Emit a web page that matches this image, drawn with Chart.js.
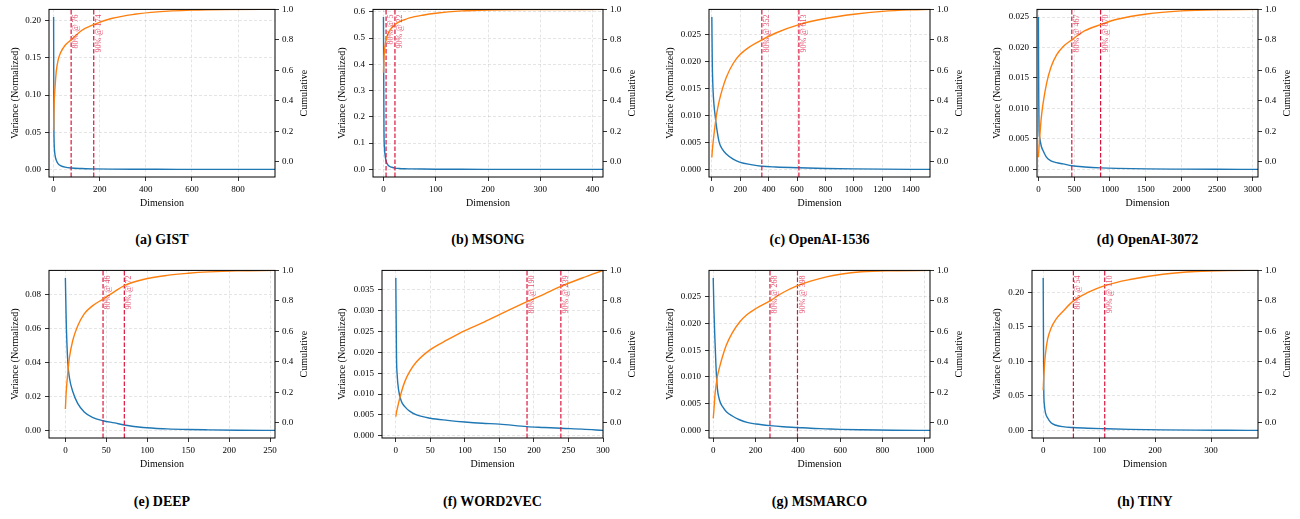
<!DOCTYPE html>
<html>
<head>
<meta charset="utf-8">
<script src="https://cdn.jsdelivr.net/npm/chart.js@4.4.1/dist/chart.umd.min.js"></script>
<style>
  body { margin: 0; background: #fff; width: 1300px; height: 519px; position: relative; overflow: hidden; }
  canvas { position: absolute; }
  .cap { position: absolute; width: 260px; text-align: center; font-family: "Liberation Serif", serif;
         font-weight: bold; font-size: 14px; line-height: 16px; color: #000; }
</style>
</head>
<body>
<script>
// ---- data ----
const panelNames = ['(a) GIST', '(b) MSONG', '(c) OpenAI-1536', '(d) OpenAI-3072',
                    '(e) DEEP', '(f) WORD2VEC', '(g) MSMARCO', '(h) TINY'];
const totalDims = [960, 420, 1536, 3072, 256, 300, 1024, 384];
const dim80 = [76, 5, 352, 467, 46, 190, 268, 54];
const dim90 = [174, 22, 613, 870, 72, 239, 398, 110];

// tick settings
const varStep = [0.05, 0.1, 0.005, 0.005, 0.02, 0.005, 0.005, 0.05];
const varDecimals = [2, 1, 3, 3, 2, 3, 3, 2];
const dimStep = [200, 100, 200, 500, 50, 50, 200, 100];
const cumTicks = [0, 0.2, 0.4, 0.6, 0.8, 1.0];

// (a) GIST
const gistDim = [0, 1, 2, 3, 5, 8, 12, 20, 30, 50, 76, 120, 174, 250, 350, 450, 600, 750, 960];
const gistVar = [0.205, 0.07, 0.04, 0.03, 0.022, 0.016, 0.012, 0.0075, 0.0052, 0.003, 0.0018, 0.0011, 0.0007, 0.0004, 0.00022, 0.00013, 0.00006, 0.00003, 0.00001];
const gistCum = [0.205, 0.31, 0.37, 0.41, 0.46, 0.53, 0.6, 0.67, 0.715, 0.765, 0.80, 0.86, 0.90, 0.94, 0.968, 0.984, 0.995, 0.999, 1.0];

// (b) MSONG
const msongDim = [0, 1, 2, 3, 5, 8, 12, 16, 22, 30, 40, 50, 75, 100, 150, 200, 300, 420];
const msongVar = [0.58, 0.15, 0.08, 0.055, 0.032, 0.018, 0.011, 0.008, 0.005, 0.0035, 0.0025, 0.002, 0.0012, 0.0008, 0.0004, 0.0002, 0.0001, 0.00003];
const msongCum = [0.584, 0.68, 0.73, 0.76, 0.80, 0.835, 0.862, 0.88, 0.90, 0.918, 0.932, 0.944, 0.962, 0.975, 0.99, 0.996, 0.999, 1.0];

// (c) OpenAI-1536
const oa1536Dim = [0, 3, 8, 15, 23, 35, 52, 75, 100, 150, 200, 275, 352, 450, 613, 800, 1000, 1200, 1400, 1536];
const oa1536Var = [0.0282, 0.02, 0.015, 0.012, 0.010, 0.0075, 0.005, 0.0037, 0.0029, 0.0019, 0.0013, 0.0009, 0.0006, 0.00045, 0.0003, 0.00018, 0.0001, 0.00005, 0.00002, 0.00001];
const oa1536Cum = [0.028, 0.07, 0.12, 0.18, 0.24, 0.32, 0.40, 0.48, 0.55, 0.645, 0.705, 0.76, 0.80, 0.845, 0.90, 0.94, 0.968, 0.987, 0.997, 1.0];

// (d) OpenAI-3072
const oa3072Dim = [0, 2, 5, 9, 18, 40, 64, 112, 175, 252, 344, 467, 650, 870, 1100, 1515, 2000, 2500, 3072];
const oa3072Var = [0.025, 0.018, 0.011, 0.0065, 0.0052, 0.0038, 0.0031, 0.002, 0.0014, 0.0011, 0.0009, 0.0006, 0.0004, 0.00025, 0.00016, 0.00008, 0.00004, 0.00001, 0];
const oa3072Cum = [0.03, 0.05, 0.07, 0.1, 0.16, 0.29, 0.38, 0.51, 0.62, 0.70, 0.755, 0.80, 0.86, 0.90, 0.935, 0.97, 0.99, 0.998, 1.0];

// (e) DEEP
const deepDim = [0, 1, 3, 5, 9, 15, 23, 33, 46, 60, 72, 95, 124, 150, 175, 210, 256];
const deepVar = [0.09, 0.065, 0.04, 0.031, 0.023, 0.016, 0.011, 0.0078, 0.0058, 0.0045, 0.0033, 0.0018, 0.001, 0.0006, 0.0004, 0.0002, 0.0001];
const deepCum = [0.09, 0.2, 0.33, 0.43, 0.54, 0.635, 0.715, 0.767, 0.812, 0.861, 0.90, 0.94, 0.967, 0.981, 0.99, 0.997, 1.0];

// (f) WORD2VEC
const w2vDim = [0, 1, 2, 4, 8, 13, 20, 30, 50, 75, 100, 125, 150, 190, 215, 239, 270, 300];
const w2vVar = [0.0378, 0.019, 0.0145, 0.011, 0.0083, 0.007, 0.0059, 0.005, 0.0042, 0.0037, 0.0033, 0.003, 0.0028, 0.0022, 0.002, 0.0018, 0.0016, 0.0013];
const w2vCum = [0.04, 0.07, 0.09, 0.13, 0.2, 0.27, 0.335, 0.40, 0.48, 0.545, 0.605, 0.655, 0.71, 0.795, 0.845, 0.895, 0.95, 1.0];

// (g) MSMARCO
const msmDim = [0, 3, 8, 13, 19, 31, 45, 62, 90, 124, 160, 202, 268, 330, 398, 460, 530, 600, 700, 850, 1024];
const msmVar = [0.0285, 0.023, 0.017, 0.012, 0.008, 0.0055, 0.0044, 0.0035, 0.0027, 0.002, 0.0015, 0.0012, 0.0009, 0.0007, 0.00055, 0.0004, 0.0003, 0.0002, 0.00012, 0.00004, 0.00001];
const msmCum = [0.029, 0.08, 0.18, 0.24, 0.30, 0.37, 0.44, 0.51, 0.59, 0.66, 0.71, 0.75, 0.80, 0.855, 0.90, 0.93, 0.956, 0.975, 0.991, 0.998, 1.0];

// (h) TINY
const tinyDim = [0, 1, 2, 4, 8, 14, 23, 35, 54, 80, 110, 155, 214, 273, 330, 384];
const tinyVar = [0.221, 0.06, 0.038, 0.026, 0.018, 0.011, 0.0075, 0.0055, 0.0042, 0.0032, 0.0025, 0.0016, 0.0009, 0.0005, 0.0003, 0.0001];
const tinyCum = [0.214, 0.3, 0.36, 0.45, 0.55, 0.62, 0.68, 0.73, 0.80, 0.855, 0.90, 0.94, 0.975, 0.993, 0.999, 1.0];

const dims = [gistDim, msongDim, oa1536Dim, oa3072Dim, deepDim, w2vDim, msmDim, tinyDim];
const vars = [gistVar, msongVar, oa1536Var, oa3072Var, deepVar, w2vVar, msmVar, tinyVar];
const cums = [gistCum, msongCum, oa1536Cum, oa3072Cum, deepCum, w2vCum, msmCum, tinyCum];

// plot area placement: [left, top, width, height, y-title centre x]
const layout = [
  [49, 8, 226, 169, 15], [373, 8, 230, 169, 342], [709, 8, 221, 169, 670], [1037, 8, 221, 169, 997],
  [49, 269, 226, 169, 15], [382, 269, 221, 169, 342], [709, 269, 221, 169, 670], [1032, 269, 226, 169, 997]
];
const capTop = [232, 494];

const FONT = 'Liberation Serif';
const tickFont = { family: FONT, size: 9 };
const labelFont = { family: FONT, size: 10 };
const gridColor = 'rgba(0,0,0,0.13)';

// multiples of step from 0 up to max
function stepTicks(step, max) {
  const out = [];
  for (let k = 0; k * step <= max + 1e-9; k++) out.push({ value: Math.round(k * step * 1e6) / 1e6 });
  return out;
}

const framePlugin = {
  id: 'frame',
  afterDatasetsDraw(chart) {
    const a = chart.chartArea, c = chart.ctx;
    c.save();
    c.strokeStyle = '#000';
    c.lineWidth = 1;
    c.strokeRect(a.left, a.top, a.right - a.left, a.bottom - a.top);
    c.restore();
  }
};

const textPlugin = {
  id: 'thresh',
  afterDraw(chart, args, opts) {
    const c = chart.ctx, a = chart.chartArea, xs = chart.scales.x;
    c.save();
    c.font = '8px "' + FONT + '"';
    c.fillStyle = 'rgba(220,20,60,0.75)';
    c.textAlign = 'right';
    c.textBaseline = 'top';
    opts.marks.forEach(m => {
      const px = xs.getPixelForValue(m[1]) + 1;
      c.save();
      c.translate(px, a.top + 5);
      c.rotate(-Math.PI / 2);
      c.fillText(m[0] + '% @ ' + m[1], 0, 0);
      c.restore();
    });
    // right axis title
    c.font = '10px "' + FONT + '"';
    c.fillStyle = '#000';
    c.textAlign = 'center';
    c.textBaseline = 'middle';
    c.translate(a.right + 29, (a.top + a.bottom) / 2);
    c.rotate(-Math.PI / 2);
    c.fillText('Cumulative', 0, 0);
    c.restore();
  }
};

function makeChart(i) {
  const [pl, pt, pw, ph, tx] = layout[i];
  const cl = tx - 10;
  const lw = pl - cl;
  const cv = document.createElement('canvas');
  cv.width = lw + pw + 36;
  cv.height = ph + 44;
  cv.style.left = cl + 'px';
  cv.style.top = (pt - 8) + 'px';
  document.body.appendChild(cv);

  const vMax = Math.max(...vars[i]), vMin = Math.min(...vars[i]);
  const pad = (vMax - vMin) * 0.05;

  const vline = (d) => ({
    data: [{ x: d, y: -0.1 }, { x: d, y: 1.0 }],
    yAxisID: 'y1', borderColor: '#dc143c', borderWidth: 1.2, borderDash: [4.5, 2],
    pointRadius: 0, order: 2
  });

  new Chart(cv, {
    type: 'line',
    data: {
      datasets: [
        {
          data: dims[i].map((d, k) => ({ x: d, y: vars[i][k] })),
          yAxisID: 'y', borderColor: '#1f77b4', borderWidth: 1.4, pointRadius: 0,
          cubicInterpolationMode: 'monotone', order: 3
        },
        vline(dim80[i]),
        vline(dim90[i]),
        {
          data: dims[i].map((d, k) => ({ x: d, y: cums[i][k] })),
          yAxisID: 'y1', borderColor: '#ff7f0e', borderWidth: 1.4, pointRadius: 0,
          cubicInterpolationMode: 'monotone', order: 1
        }
      ]
    },
    options: {
      responsive: false,
      animation: false,
      events: [],
      layout: { padding: { top: 8, left: 0, right: 0, bottom: 0 } },
      plugins: {
        legend: { display: false },
        tooltip: { enabled: false },
        thresh: { marks: [[80, dim80[i]], [90, dim90[i]]] }
      },
      scales: {
        x: {
          type: 'linear', position: 'bottom', min: -20, max: totalDims[i],
          afterFit: s => { s.height = 36; },
          afterBuildTicks: s => { s.ticks = stepTicks(dimStep[i], totalDims[i]); },
          ticks: { font: tickFont, color: '#000', padding: 3, maxRotation: 0, autoSkip: false,
                   callback: v => String(v) },
          grid: { color: gridColor, lineWidth: 0.8, tickColor: '#000', tickLength: 4, tickWidth: 0.8 },
          border: { display: false, dash: [3, 2] },
          title: { display: true, text: 'Dimension', font: labelFont, color: '#000' }
        },
        y: {
          type: 'linear', position: 'left', min: vMin - pad, max: vMax + pad,
          afterFit: s => { s.width = lw; },
          afterBuildTicks: s => { s.ticks = stepTicks(varStep[i], vMax + pad); },
          ticks: { font: tickFont, color: '#000', padding: 4, autoSkip: false,
                   callback: v => v.toFixed(varDecimals[i]) },
          grid: { color: gridColor, lineWidth: 0.8, tickColor: '#000', tickLength: 4, tickWidth: 0.8 },
          border: { display: false, dash: [3, 2] },
          title: { display: true, text: 'Variance (Normalized)', font: labelFont, color: '#000' }
        },
        y1: {
          type: 'linear', position: 'right', min: -0.1, max: 1.0,
          afterFit: s => { s.width = 36; },
          afterBuildTicks: s => { s.ticks = cumTicks.map(v => ({ value: v })); },
          ticks: { font: tickFont, color: '#000', padding: 3, autoSkip: false,
                   callback: v => v.toFixed(1) },
          grid: { drawOnChartArea: false, tickColor: '#000', tickLength: 4, tickWidth: 0.8 },
          border: { display: false }
        }
      }
    },
    plugins: [framePlugin, textPlugin]
  });

  const cap = document.createElement('div');
  cap.className = 'cap';
  cap.textContent = panelNames[i];
  cap.style.left = (pl + pw / 2 - 130) + 'px';
  cap.style.top = capTop[i < 4 ? 0 : 1] + 'px';
  document.body.appendChild(cap);
}

for (let i = 0; i < 8; i++) makeChart(i);
</script>
</body>
</html>
